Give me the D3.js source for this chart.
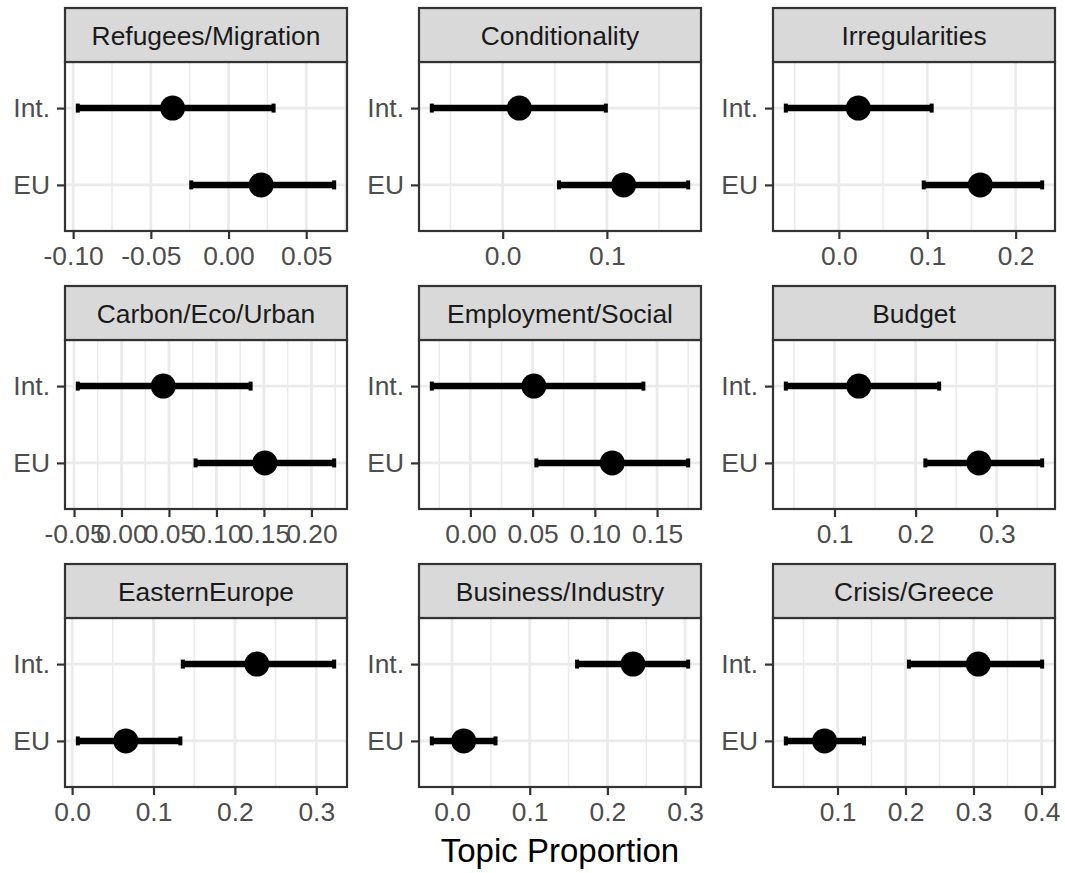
<!DOCTYPE html>
<html>
<head>
<meta charset="utf-8">
<script src="https://cdn.jsdelivr.net/npm/d3@7"></script>
<style>
  body { margin: 0; background: #fff; }
  svg { display: block; font-family: "Liberation Sans", Arial, Helvetica, sans-serif; }
</style>
</head>
<body>
<svg id="chart"></svg>
<script>
const topics = ["Refugees/Migration", "Conditionality", "Irregularities",
                "Carbon/Eco/Urban", "Employment/Social", "Budget",
                "EasternEurope", "Business/Industry", "Crisis/Greece"];
const groups = ["Int.", "EU"];

// estimates with lower / upper bounds, one entry per topic
const intLow  = [-0.097, -0.068, -0.060, -0.046, -0.031, 0.040, 0.136, 0.161, 0.205];
const intEst  = [-0.036,  0.016,  0.022,  0.044,  0.051, 0.130, 0.227, 0.233, 0.307];
const intHigh = [ 0.029,  0.099,  0.105,  0.136,  0.139, 0.229, 0.322, 0.304, 0.401];
const euLow   = [-0.024,  0.054,  0.096,  0.078,  0.053, 0.212, 0.007, -0.026, 0.024];
const euEst   = [ 0.021,  0.116,  0.160,  0.151,  0.114, 0.278, 0.066, 0.015, 0.081];
const euHigh  = [ 0.068,  0.178,  0.230,  0.224,  0.175, 0.356, 0.133, 0.056, 0.139];

const tickLabels = [
  ["-0.10", "-0.05", "0.00", "0.05"],
  ["0.0", "0.1"],
  ["0.0", "0.1", "0.2"],
  ["-0.05", "0.00", "0.05", "0.10", "0.15", "0.20"],
  ["0.00", "0.05", "0.10", "0.15"],
  ["0.1", "0.2", "0.3"],
  ["0.0", "0.1", "0.2", "0.3"],
  ["0.0", "0.1", "0.2", "0.3"],
  ["0.1", "0.2", "0.3", "0.4"]
];

const width = 1065, height = 873;
const colLeft = [65, 419, 773];
const rowTop = [8, 286, 564];
const panelW = 282, stripH = 54, plotH = 169;

const svg = d3.select("#chart").attr("width", width).attr("height", height);

topics.forEach((topic, i) => {
  const px = colLeft[i % 3];
  const py = rowTop[Math.floor(i / 3)];
  const top = py + stripH;

  const rows = [
    {g: "Int.", lo: intLow[i], est: intEst[i], hi: intHigh[i]},
    {g: "EU",   lo: euLow[i],  est: euEst[i],  hi: euHigh[i]}
  ];

  // ggplot-like 5% expansion
  const lo = d3.min(rows, d => d.lo), hi = d3.max(rows, d => d.hi);
  const pad = (hi - lo) * 0.05;
  const x = d3.scaleLinear().domain([lo - pad, hi + pad]).range([px, px + panelW]);
  const y = d3.scalePoint().domain(groups).range([top, top + plotH]).padding(0.6);

  const ticks = tickLabels[i].map(Number);
  const step = ticks.length > 1 ? ticks[1] - ticks[0] : 0.1;
  const minor = [];
  for (let t = ticks[0] - step / 2; t <= ticks[ticks.length - 1] + step; t += step) {
    if (t >= x.domain()[0] && t <= x.domain()[1]) minor.push(t);
  }

  const g = svg.append("g");

  g.append("rect")
    .attr("x", px).attr("y", top).attr("width", panelW).attr("height", plotH)
    .attr("fill", "#fff");

  g.selectAll(".minor").data(minor).join("line")
    .attr("x1", d => x(d)).attr("x2", d => x(d))
    .attr("y1", top).attr("y2", top + plotH)
    .attr("stroke", "#ebebeb").attr("stroke-width", 1.5);

  g.selectAll(".major").data(ticks).join("line")
    .attr("x1", d => x(d)).attr("x2", d => x(d))
    .attr("y1", top).attr("y2", top + plotH)
    .attr("stroke", "#ebebeb").attr("stroke-width", 2.8);

  g.selectAll(".hgrid").data(groups).join("line")
    .attr("x1", px).attr("x2", px + panelW)
    .attr("y1", d => y(d)).attr("y2", d => y(d))
    .attr("stroke", "#ebebeb").attr("stroke-width", 2.8);

  // error bars
  g.selectAll(".bar").data(rows).join("line")
    .attr("x1", d => x(d.lo)).attr("x2", d => x(d.hi))
    .attr("y1", d => y(d.g)).attr("y2", d => y(d.g))
    .attr("stroke", "#000").attr("stroke-width", 6.5);

  g.selectAll(".cap").data(rows.flatMap(d => [{g: d.g, v: d.lo}, {g: d.g, v: d.hi}])).join("line")
    .attr("x1", d => x(d.v)).attr("x2", d => x(d.v))
    .attr("y1", d => y(d.g) - 4.5).attr("y2", d => y(d.g) + 4.5)
    .attr("stroke", "#000").attr("stroke-width", 4);

  g.selectAll(".pt").data(rows).join("circle")
    .attr("cx", d => x(d.est)).attr("cy", d => y(d.g))
    .attr("r", 12.5).attr("fill", "#000");

  // panel border
  g.append("rect")
    .attr("x", px).attr("y", top).attr("width", panelW).attr("height", plotH)
    .attr("fill", "none").attr("stroke", "#333").attr("stroke-width", 2.2);

  // strip
  g.append("rect")
    .attr("x", px).attr("y", py).attr("width", panelW).attr("height", stripH)
    .attr("fill", "#d9d9d9").attr("stroke", "#333").attr("stroke-width", 2.2);
  g.append("text")
    .attr("x", px + panelW / 2).attr("y", py + stripH / 2)
    .attr("dy", "0.36em").attr("text-anchor", "middle")
    .attr("font-size", 26.4).attr("fill", "#1a1a1a")
    .text(topic);

  // x axis
  const xAxis = g.append("g").attr("transform", `translate(0,${top + plotH})`)
    .call(d3.axisBottom(x).tickValues(ticks).tickSize(8).tickPadding(7)
      .tickFormat((d, k) => tickLabels[i][k]));
  xAxis.select(".domain").remove();
  xAxis.selectAll(".tick line").attr("stroke", "#333").attr("stroke-width", 2.2);
  xAxis.selectAll(".tick text").attr("font-size", 26.4).attr("fill", "#4d4d4d")
    .attr("font-family", "Liberation Sans, Arial, sans-serif");

  // y axis
  const yAxis = g.append("g").attr("transform", `translate(${px},0)`)
    .call(d3.axisLeft(y).tickSize(8).tickPadding(7));
  yAxis.select(".domain").remove();
  yAxis.selectAll(".tick line").attr("stroke", "#333").attr("stroke-width", 2.2);
  yAxis.selectAll(".tick text").attr("font-size", 26.4).attr("fill", "#4d4d4d")
    .attr("font-family", "Liberation Sans, Arial, sans-serif");
});

svg.append("text")
  .attr("x", (colLeft[0] + colLeft[2] + panelW) / 2).attr("y", 862)
  .attr("text-anchor", "middle").attr("font-size", 33).attr("fill", "#000")
  .text("Topic Proportion");
</script>
</body>
</html>
